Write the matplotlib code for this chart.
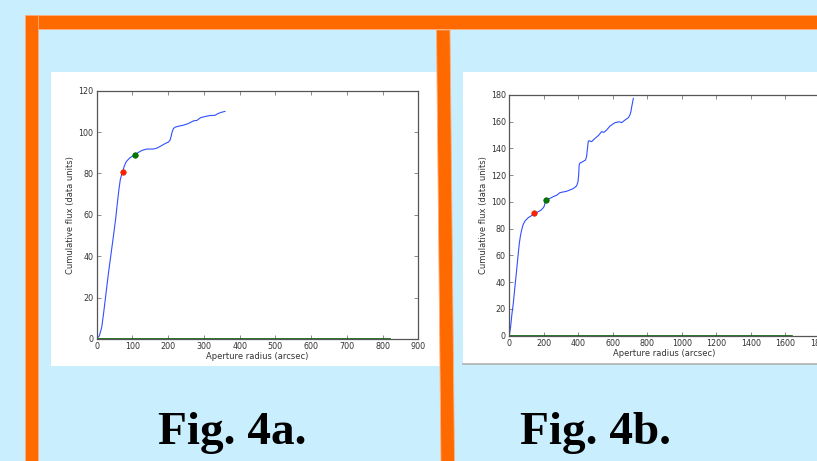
import matplotlib.pyplot as plt
from matplotlib.patches import Rectangle, Polygon

# ---- data ----
# Fig. 4a : cumulative flux vs aperture radius
radius_a = [0, 7.5, 14, 19, 26, 33, 40, 47, 53, 58, 62, 66, 70, 72.8, 77, 83, 93, 100, 107.2,
            115, 126, 140, 158, 168, 180, 192, 200, 205, 208, 211, 215, 220, 228, 242, 255,
            265, 272, 280, 291, 303, 317, 331, 340, 350, 359]
flux_a = [0, 1.6, 5.6, 12, 22, 32, 41, 50, 58, 66, 72, 77, 79.6, 80.6, 83.5, 85.8, 87.6, 88.3, 88.9,
          90.0, 91.1, 91.8, 91.8, 92.2, 93.3, 94.5, 95.1, 96.0, 97.8, 100.0, 101.8, 102.4, 102.8,
          103.3, 104.0, 104.9, 105.5, 105.6, 107.0, 107.5, 108.0, 108.1, 109.0, 109.6, 110.0]
red_a = (72.8, 80.6)
green_a = (107.2, 88.9)
baseline_a = [0, 821]

# Fig. 4b
radius_b = [0, 7.7, 15, 23, 33, 42.5, 50, 58, 65, 71.5, 80, 91, 110, 129.5, 145, 168, 185, 197,
            203, 207, 214.5, 236, 255, 274, 294, 332, 371, 390, 398, 402, 405, 410, 419, 442,
            448, 453, 458, 463, 477, 497, 516, 535, 549, 564, 584, 612, 638, 651, 671, 690,
            699, 705, 709, 714, 719]
flux_b = [0, 6.7, 16, 24, 37, 49, 59, 69, 75, 79, 83, 85.8, 88.3, 89.8, 91.5, 92.7, 94.0, 95.7,
          97, 99.5, 101.3, 102.7, 104, 105, 107, 108, 110, 112, 115, 120, 127.6, 129.2, 129.6,
          131.4, 134, 140, 145.5, 145.8, 145.1, 147.6, 149.6, 152.6, 152.1, 153.8, 156.8,
          159.3, 160, 159.3, 161.3, 163, 165, 167.5, 170.8, 174, 177.5]
red_b = (145, 91.5)
green_b = (214.5, 101.3)
baseline_b = [0, 1637]

xticks_a = list(range(0, 901, 100))
yticks_a = list(range(0, 121, 20))
xticks_b = list(range(0, 1801, 200))
yticks_b = list(range(0, 181, 20))

W, H = 817, 461
BG = '#c9eefd'
ORANGE = '#ff6a00'

fig = plt.figure(figsize=(W / 100, H / 100), dpi=100, facecolor=BG)

# background layer in pixel coordinates
bg = fig.add_axes([0, 0, 1, 1], zorder=0)
bg.set_xlim(0, W)
bg.set_ylim(H, 0)
bg.axis('off')
bg.add_patch(Rectangle((51, 72), 392, 294, facecolor='white', edgecolor='none'))
bg.add_patch(Rectangle((463.5, 72), 360, 292, facecolor='white', edgecolor='none'))
bg.plot([463.5, W], [364, 364], color='#b0b0b0', lw=1.2)
bg.add_patch(Rectangle((25, 15), W - 25 + 5, 14, facecolor=ORANGE, edgecolor='#ffb080', lw=0.6))
bg.add_patch(Rectangle((25, 15), 13.5, H, facecolor=ORANGE, edgecolor='#ffb080', lw=0.6))
bg.add_patch(Polygon([(436.5, 30), (450, 30), (454.5, H + 2), (441, H + 2)],
                     closed=True, facecolor=ORANGE, edgecolor='#ffb080', lw=0.6))
bg.text(232.5, 444, 'Fig. 4a.', family='Liberation Serif', weight='bold',
        fontsize=34, ha='center', va='baseline', color='black')
bg.text(596, 444, 'Fig. 4b.', family='Liberation Serif', weight='bold',
        fontsize=34, ha='center', va='baseline', color='black')


def style(ax, right=True):
    for s in ax.spines.values():
        s.set_color('#555555')
        s.set_linewidth(0.9)
    ax.tick_params(direction='in', length=3, width=0.6, color='#777777',
                   labelsize=5.8, labelcolor='#333333', pad=2.5,
                   top=True, right=right)
    ax.set_xlabel('Aperture radius (arcsec)', fontsize=6, color='#333333', labelpad=0.5)
    ax.set_ylabel('Cumulative flux (data units)', fontsize=6, color='#333333', labelpad=2)


# panel a
ax1 = fig.add_axes([96.7 / W, (H - 339) / H, (418.3 - 96.7) / W, (339 - 90.7) / H], zorder=2)
ax1.plot(radius_a, flux_a, color='#3050ff', lw=0.8)
ax1.plot(baseline_a, [0, 0], color='#006400', lw=1.2)
ax1.plot(*red_a, 'o', color='#ff2200', ms=4, mec='#cc2200', mew=0.4)
ax1.plot(*green_a, 'o', color='#007a00', ms=4, mec='#005500', mew=0.4)
ax1.set_xlim(0, 900)
ax1.set_ylim(0, 120)
ax1.set_xticks(xticks_a)
ax1.set_yticks(yticks_a)
style(ax1)

# panel b (its right edge runs past the picture)
ax2 = fig.add_axes([509.3 / W, (H - 335.7) / H, 310.5 / W, (335.7 - 95) / H], zorder=2)
ax2.plot(radius_b, flux_b, color='#3050ff', lw=0.8)
ax2.plot(baseline_b, [0, 0], color='#006400', lw=1.2)
ax2.plot(*red_b, 'o', color='#ff2200', ms=4, mec='#cc2200', mew=0.4)
ax2.plot(*green_b, 'o', color='#007a00', ms=4, mec='#005500', mew=0.4)
ax2.set_xlim(0, 1800)
ax2.set_ylim(0, 180)
ax2.set_xticks(xticks_b)
ax2.set_yticks(yticks_b)
style(ax2, right=False)

fig.savefig('out.png', dpi=100, facecolor=BG)
